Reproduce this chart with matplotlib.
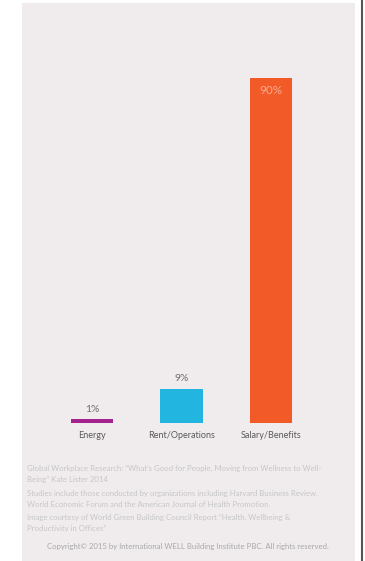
import matplotlib.pyplot as plt
from matplotlib.patches import Rectangle

categories = ["Energy", "Rent/Operations", "Salary/Benefits"]
values = [1, 9, 90]
labels = ["1%", "9%", "90%"]
colors = ["#a3228e", "#22b5e0", "#f25a28"]

footnotes = [
    "Global Workplace Research: \u201cWhat\u2019s Good for People, Moving from Wellness to Well-\nBeing\u201d Kate Lister 2014",
    "Studies include those conducted by organizations including Harvard Business Review,\nWorld Economic Forum and the American Journal of Health Promotion.",
    "Image courtesy of World Green Building Council Report \u201cHealth, Wellbeing &\nProductivity in Offices\u201d",
]
copyright_text = "Copyright\u00a9 2015 by International WELL Building Institute PBC. All rights reserved."

plt.rcParams['font.family'] = ['Lato', 'DejaVu Sans']

W, H = 365, 561
fig = plt.figure(figsize=(W / 100, H / 100), dpi=100)
fig.patch.set_facecolor("white")

# background panel and right border line
fig.patches.append(Rectangle((22 / W, 0), (355 - 22) / W, 1 - 3 / H,
                             transform=fig.transFigure, facecolor="#f0ecee",
                             edgecolor="none", zorder=-5))
fig.lines.append(plt.Line2D([362 / W, 362 / W], [0, 1], transform=fig.transFigure,
                            color="#555555", lw=1.5))

# axes: bar bottom at y=423 px, 90% top at y=78 px
ax = fig.add_axes([22 / W, 1 - 423 / H, 333 / W, (423 - 78) / H])
ax.set_zorder(2)
ax.set_facecolor("none")
x = [0, 1, 2]
ax.bar(x, values, width=0.47, color=colors)
ax.set_xlim(-0.782, 2.939)
ax.set_ylim(0, 90)
ax.axis("off")

for i in range(2):
    ax.annotate(labels[i], (x[i], values[i]), xytext=(0, 4), textcoords="offset points",
                ha="center", va="bottom", fontsize=7.5, color="#707070",
                annotation_clip=False)
ax.annotate(labels[2], (x[2], values[2]), xytext=(0, -5), textcoords="offset points",
            ha="center", va="top", fontsize=8.5, color="#f6ab90")

for i, c in enumerate(categories):
    ax.annotate(c, (x[i], 0), xytext=(0, -6), textcoords="offset points",
                ha="center", va="top", fontsize=6.5, color="#5a5a5a",
                annotation_clip=False)

# footnotes
ys = [474, 499, 523]
for y, t in zip(ys, footnotes):
    fig.text(27 / W, 1 - y / H, t, ha="left", va="center", fontsize=5.6,
             color="#c6c6c6", linespacing=1.7)
fig.text(188 / W, 1 - 547 / H, copyright_text, ha="center", va="center",
         fontsize=5.6, color="#a8a8a8")

fig.savefig("out.png", dpi=100)
